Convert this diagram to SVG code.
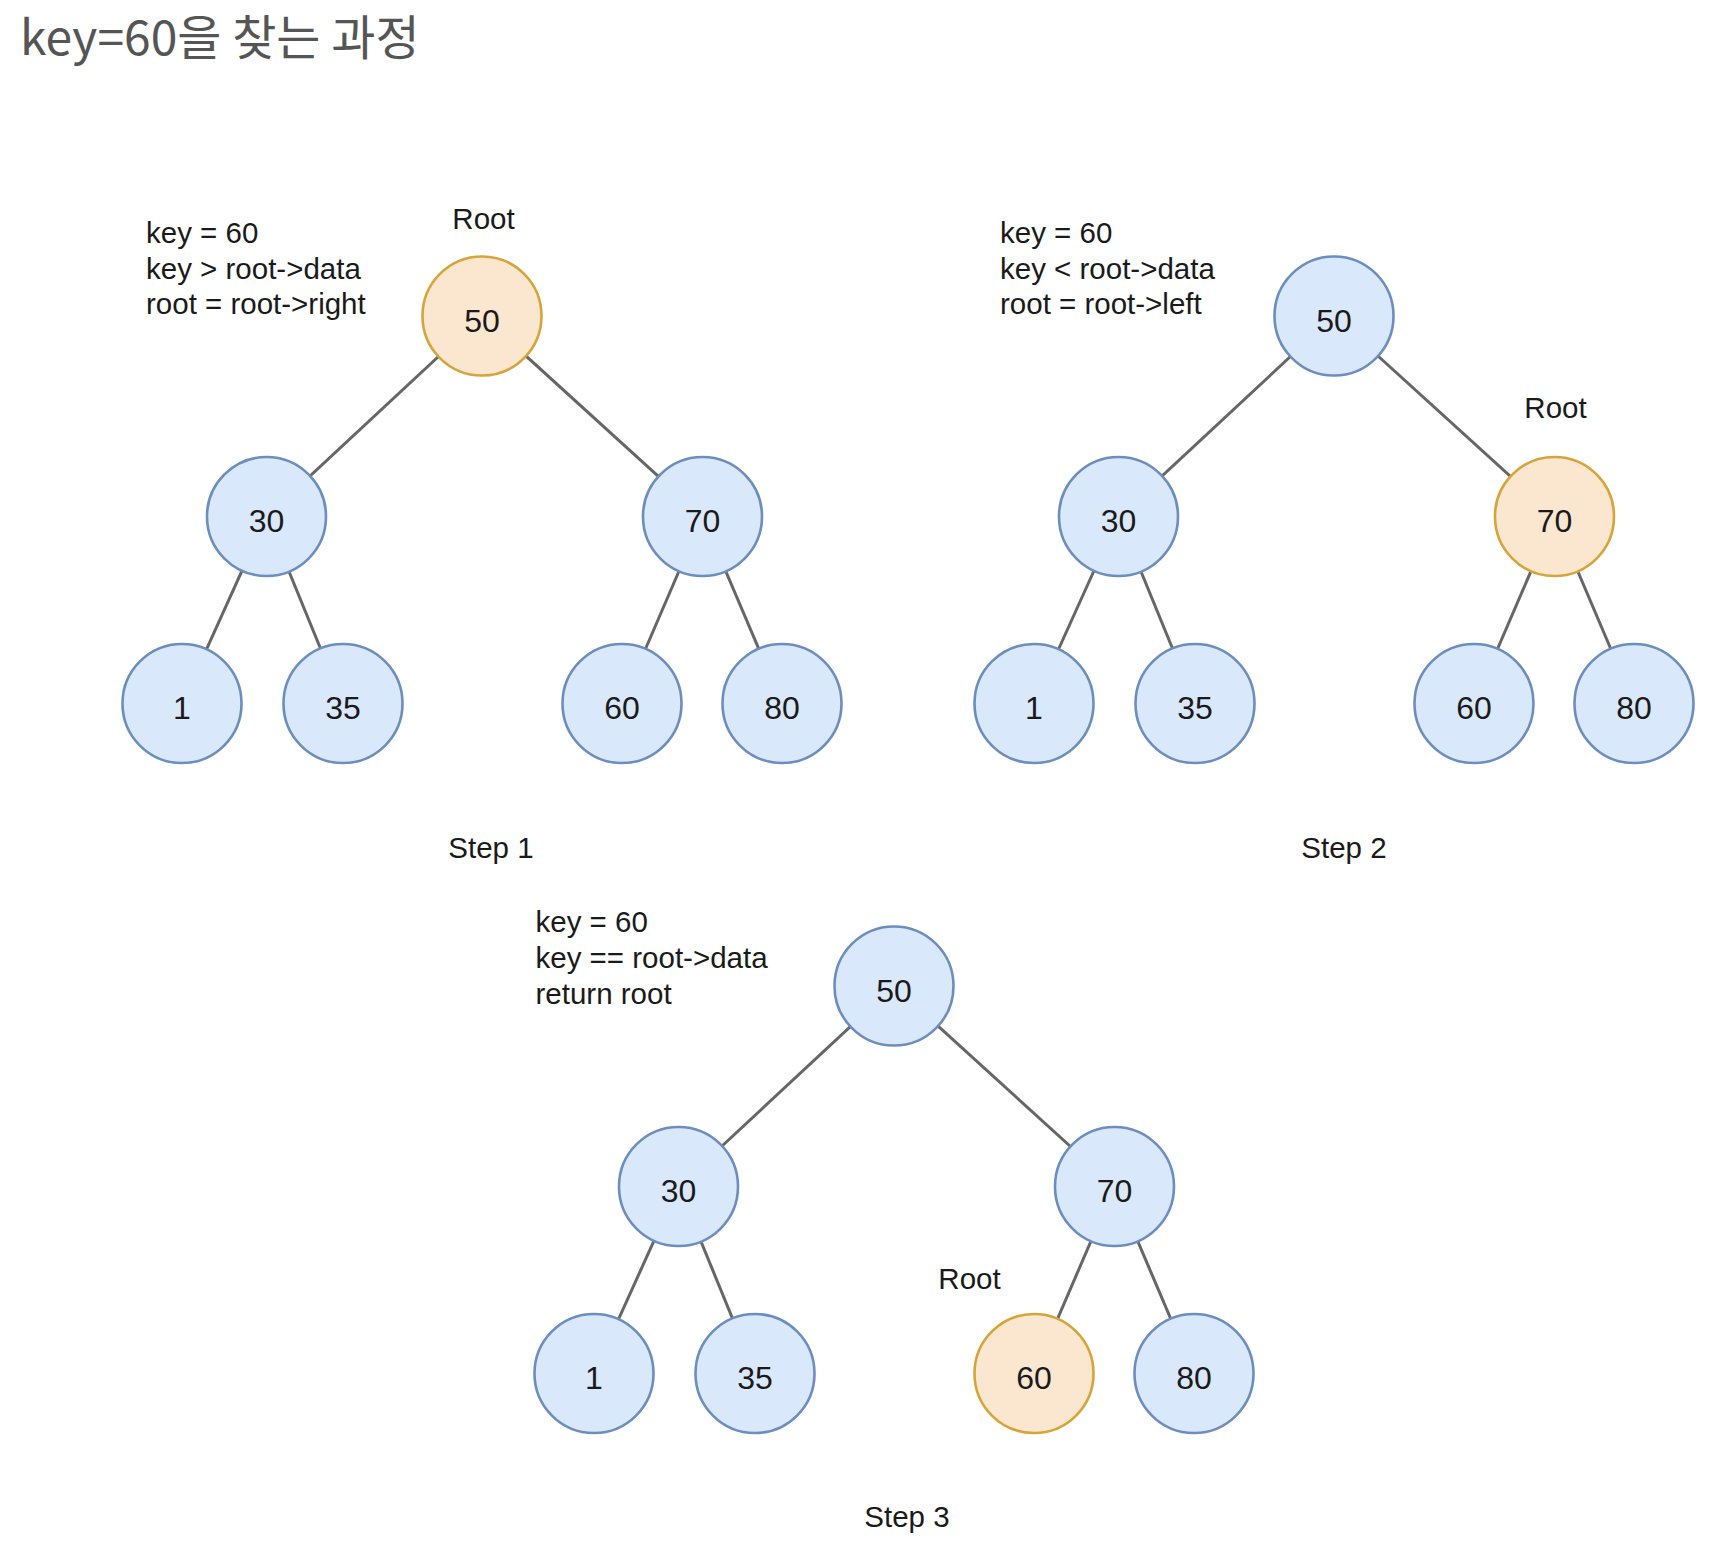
<svg xmlns="http://www.w3.org/2000/svg" width="1714" height="1554" viewBox="0 0 1714 1554">
<style>
.bg{fill:#ffffff}
.title{font-family:"Noto Sans CJK KR","Noto Sans",sans-serif;font-size:48px;fill:#555555}
.lbl{font-family:"Liberation Sans",Arial,sans-serif;font-size:29.5px;fill:#1a1a1a}
.num{font-family:"Liberation Sans",Arial,sans-serif;font-size:32px;fill:#1a1a1a;text-anchor:middle}
.mid{text-anchor:middle}
.n{fill:#dae8fc;stroke:#6c8ebf;stroke-width:2.6}
.h{fill:#fbe6cf;stroke:#d6a53a;stroke-width:2.6}
.e{stroke:#666666;stroke-width:3;fill:none}
</style>
<rect class="bg" x="0" y="0" width="1714" height="1554"/>
<text class="title" x="20" y="55">key=60을 찾는 과정</text>

<g id="connectors">
  <!-- step 1 -->
  <line class="e" x1="482" y1="316" x2="266.5" y2="516.5"/>
  <line class="e" x1="482" y1="316" x2="702.5" y2="516.5"/>
  <line class="e" x1="266.5" y1="516.5" x2="182" y2="703.5"/>
  <line class="e" x1="266.5" y1="516.5" x2="343" y2="703.5"/>
  <line class="e" x1="702.5" y1="516.5" x2="622" y2="703.5"/>
  <line class="e" x1="702.5" y1="516.5" x2="782" y2="703.5"/>
  <!-- step 2 -->
  <line class="e" x1="1334" y1="316" x2="1118.5" y2="516.5"/>
  <line class="e" x1="1334" y1="316" x2="1554.5" y2="516.5"/>
  <line class="e" x1="1118.5" y1="516.5" x2="1034" y2="703.5"/>
  <line class="e" x1="1118.5" y1="516.5" x2="1195" y2="703.5"/>
  <line class="e" x1="1554.5" y1="516.5" x2="1474" y2="703.5"/>
  <line class="e" x1="1554.5" y1="516.5" x2="1634" y2="703.5"/>
  <!-- step 3 -->
  <line class="e" x1="894" y1="986" x2="678.5" y2="1186.5"/>
  <line class="e" x1="894" y1="986" x2="1114.5" y2="1186.5"/>
  <line class="e" x1="678.5" y1="1186.5" x2="594" y2="1373.5"/>
  <line class="e" x1="678.5" y1="1186.5" x2="755" y2="1373.5"/>
  <line class="e" x1="1114.5" y1="1186.5" x2="1034" y2="1373.5"/>
  <line class="e" x1="1114.5" y1="1186.5" x2="1194" y2="1373.5"/>
</g>

<!-- Step 1 -->
<g id="s1-text">
  <text class="lbl" x="146" y="243">key = 60</text>
  <text class="lbl" x="146" y="279">key &gt; root-&gt;data</text>
  <text class="lbl" x="146" y="314">root = root-&gt;right</text>
  <text class="lbl mid" x="483.5" y="229">Root</text>
  <text class="lbl mid" x="491" y="858">Step 1</text>
</g>
<g id="s1-50"><circle class="h" cx="482" cy="316" r="59.5"/><text class="num" x="482" y="331.5">50</text></g>
<g id="s1-30"><circle class="n" cx="266.5" cy="516.5" r="59.5"/><text class="num" x="266.5" y="532">30</text></g>
<g id="s1-70"><circle class="n" cx="702.5" cy="516.5" r="59.5"/><text class="num" x="702.5" y="532">70</text></g>
<g id="s1-1"><circle class="n" cx="182" cy="703.5" r="59.5"/><text class="num" x="182" y="719">1</text></g>
<g id="s1-35"><circle class="n" cx="343" cy="703.5" r="59.5"/><text class="num" x="343" y="719">35</text></g>
<g id="s1-60"><circle class="n" cx="622" cy="703.5" r="59.5"/><text class="num" x="622" y="719">60</text></g>
<g id="s1-80"><circle class="n" cx="782" cy="703.5" r="59.5"/><text class="num" x="782" y="719">80</text></g>

<!-- Step 2 -->
<g id="s2-text">
  <text class="lbl" x="1000" y="243">key = 60</text>
  <text class="lbl" x="1000" y="279">key &lt; root-&gt;data</text>
  <text class="lbl" x="1000" y="314">root = root-&gt;left</text>
  <text class="lbl mid" x="1555.5" y="418">Root</text>
  <text class="lbl mid" x="1344" y="858">Step 2</text>
</g>
<g id="s2-50"><circle class="n" cx="1334" cy="316" r="59.5"/><text class="num" x="1334" y="331.5">50</text></g>
<g id="s2-30"><circle class="n" cx="1118.5" cy="516.5" r="59.5"/><text class="num" x="1118.5" y="532">30</text></g>
<g id="s2-70"><circle class="h" cx="1554.5" cy="516.5" r="59.5"/><text class="num" x="1554.5" y="532">70</text></g>
<g id="s2-1"><circle class="n" cx="1034" cy="703.5" r="59.5"/><text class="num" x="1034" y="719">1</text></g>
<g id="s2-35"><circle class="n" cx="1195" cy="703.5" r="59.5"/><text class="num" x="1195" y="719">35</text></g>
<g id="s2-60"><circle class="n" cx="1474" cy="703.5" r="59.5"/><text class="num" x="1474" y="719">60</text></g>
<g id="s2-80"><circle class="n" cx="1634" cy="703.5" r="59.5"/><text class="num" x="1634" y="719">80</text></g>

<!-- Step 3 -->
<g id="s3-text">
  <text class="lbl" x="535.5" y="932">key = 60</text>
  <text class="lbl" x="535.5" y="968">key == root-&gt;data</text>
  <text class="lbl" x="535.5" y="1004">return root</text>
  <text class="lbl mid" x="969.5" y="1289">Root</text>
  <text class="lbl mid" x="907" y="1527">Step 3</text>
</g>
<g id="s3-50"><circle class="n" cx="894" cy="986" r="59.5"/><text class="num" x="894" y="1001.5">50</text></g>
<g id="s3-30"><circle class="n" cx="678.5" cy="1186.5" r="59.5"/><text class="num" x="678.5" y="1202">30</text></g>
<g id="s3-70"><circle class="n" cx="1114.5" cy="1186.5" r="59.5"/><text class="num" x="1114.5" y="1202">70</text></g>
<g id="s3-1"><circle class="n" cx="594" cy="1373.5" r="59.5"/><text class="num" x="594" y="1389">1</text></g>
<g id="s3-35"><circle class="n" cx="755" cy="1373.5" r="59.5"/><text class="num" x="755" y="1389">35</text></g>
<g id="s3-60"><circle class="h" cx="1034" cy="1373.5" r="59.5"/><text class="num" x="1034" y="1389">60</text></g>
<g id="s3-80"><circle class="n" cx="1194" cy="1373.5" r="59.5"/><text class="num" x="1194" y="1389">80</text></g>
</svg>
